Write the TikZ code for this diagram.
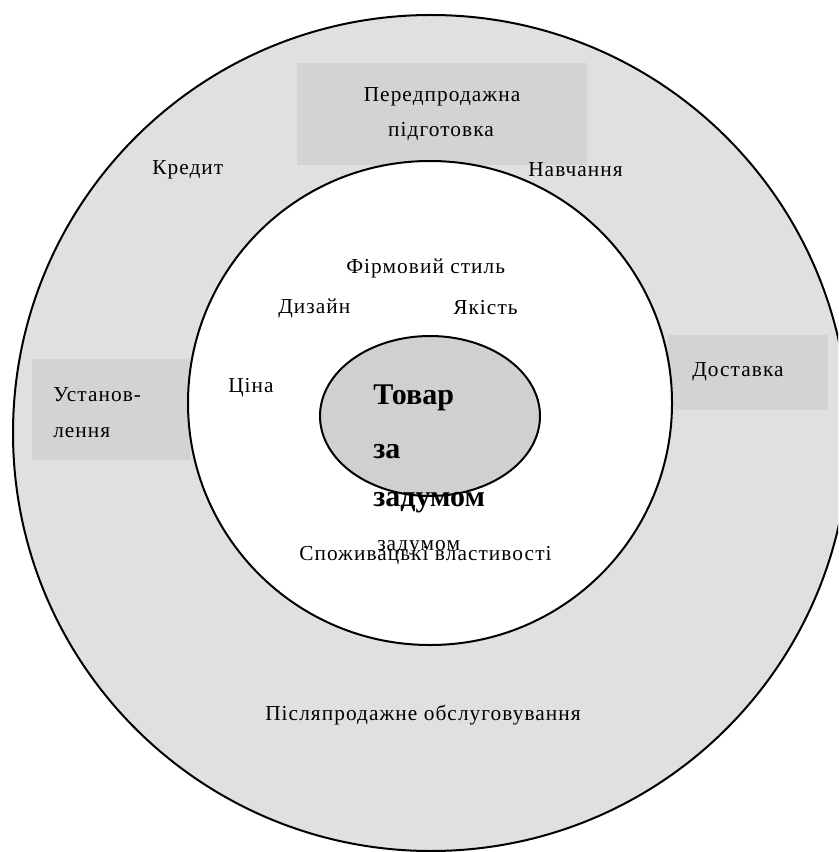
\documentclass[tikz,border=0pt]{standalone}
\usepackage{fontspec}
\setmainfont{Liberation Serif}[LetterSpace=5]
\newfontfamily\plainf{Liberation Serif}
\definecolor{ringgrey}{HTML}{E0E0E0}
\definecolor{boxgrey}{HTML}{D3D3D3}
\definecolor{coregrey}{HTML}{D0D0D0}
\begin{document}
\begin{tikzpicture}[x=0.75pt,y=-0.75pt,
  lbl/.style={font=\fontsize{16}{19}\selectfont, inner sep=0pt, anchor=west},
  big/.style={font=\plainf\fontsize{22.5}{26}\selectfont\bfseries, inner sep=0pt, anchor=west},
  ring/.style={line width=1.5pt, draw=black},
  panel/.style={fill=boxgrey, draw=none}]
\useasboundingbox (0,0) rectangle (838,852);
\clip (0,0) rectangle (838,852);
\fill[white] (0,0) rectangle (838,852);
% outer ring
\filldraw[ring, fill=ringgrey] (431,433) circle [radius=418];
% boxes
\fill[panel] (297,63) rectangle (587,165);
\fill[panel] (32,359) rectangle (190,460);
\fill[panel] (668,335) rectangle (828,410);
% inner circle
\filldraw[ring, fill=white] (430,403) circle [radius=242];
% core ellipse
\filldraw[ring, fill=coregrey] (430,416) ellipse [x radius=110, y radius=80];
% texts
\node[lbl, anchor=center] (pre1) at (442,97) {Передпродажна};
\node[lbl, anchor=center] (pre2) at (441,132) {підготовка};
\node[lbl] (kred) at (152,170) {Кредит};
\node[lbl] (navch) at (528,170) {Навчання};
\node[lbl] (ust1) at (53,395) {Установ-};
\node[lbl] (ust2) at (53,433) {лення};
\node[lbl] (dost) at (692,372) {Доставка};
\node[lbl] (firm) at (346,268) {Фірмовий стиль};
\node[lbl] (diz) at (278,308) {Дизайн};
\node[lbl] (yak) at (453,308) {Якість};
\node[lbl] (tsina) at (228,388) {Ціна};
\node[big] (tov1) at (373,398) {Товар};
\node[big] (tov2) at (373,452) {за};
\node[big] (tov3) at (373,503) {задумом};
\node[lbl] (zad) at (377,548) {задумом};
\node[lbl] (spoz) at (299,555) {Споживацькі властивості};
\node[lbl] (post) at (265,715) {Післяпродажне обслуговування};
\end{tikzpicture}
\end{document}
